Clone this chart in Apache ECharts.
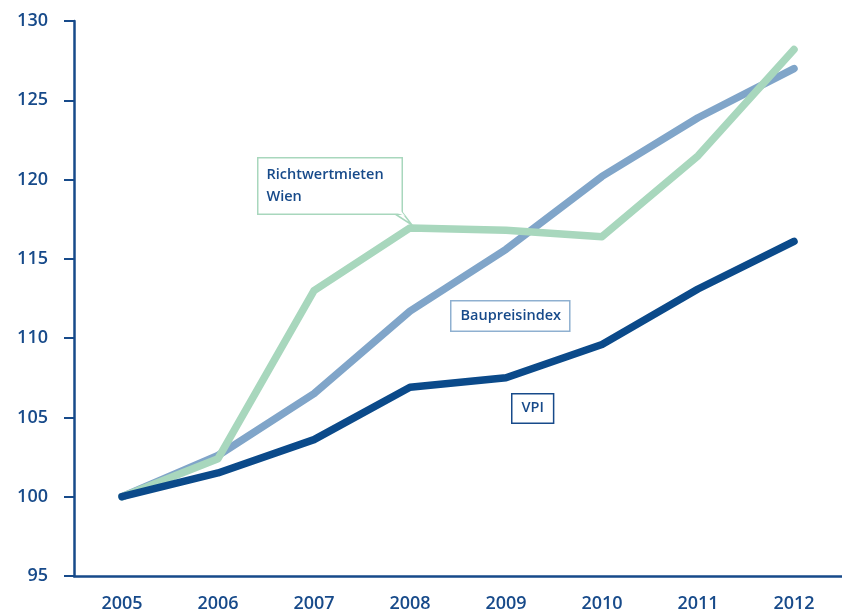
<!DOCTYPE html>
<html><head><meta charset="utf-8">
<script src="https://cdn.jsdelivr.net/npm/echarts@6/dist/echarts.min.js"></script>
<style>html,body{margin:0;padding:0;background:#fff}#c{width:842px;height:613px}</style>
</head><body><div id="c"></div>
<script>
const years = ['2005','2006','2007','2008','2009','2010','2011','2012'];
const vpi = [100, 101.5, 103.6, 106.9, 107.5, 109.6, 113.1, 116.1];
const baupreisindex = [100, 102.6, 106.5, 111.7, 115.6, 120.2, 123.9, 127.0];
const richtwertmieten = [100, 102.4, 113.0, 116.95, 116.8, 116.4, 121.5, 128.2];
const yTicks = {min: 95, max: 130, interval: 5};

const axisColor = '#174a8a';
const font = "'Open Sans', sans-serif";
const chart = echarts.init(document.getElementById('c'), null, {renderer: 'canvas'});
function line(name, data, color, z) {
  return {name, type: 'line', data, symbol: 'none', z,
    lineStyle: {color, width: 7.5, cap: 'round', join: 'round'}};
}
chart.setOption({
  animation: false,
  grid: {left: 74, top: 21, width: 774, height: 555},
  xAxis: {type: 'category', data: years, boundaryGap: true,
    axisLine: {lineStyle: {color: axisColor, width: 2.5}},
    axisTick: {length: 10, lineStyle: {color: axisColor, width: 2}},
    axisLabel: {color: axisColor, fontSize: 18, fontWeight: 600, fontFamily: font, margin: 19}},
  yAxis: {type: 'value', min: yTicks.min, max: yTicks.max, interval: yTicks.interval,
    splitLine: {show: false},
    axisLine: {show: true, lineStyle: {color: axisColor, width: 2.5}},
    axisTick: {show: true, length: 10, lineStyle: {color: axisColor, width: 2}},
    axisLabel: {color: axisColor, fontSize: 18, fontWeight: 600, fontFamily: font, margin: 26}},
  series: [
    line('Baupreisindex', baupreisindex, '#80a5c9', 2),
    line('Richtwertmieten Wien', richtwertmieten, '#a8d7bd', 3),
    line('VPI', vpi, '#0b4a8a', 4)
  ],
  graphic: [
    {type: 'polygon', z: 10, shape: {points: [[392, 212], [412, 225], [402, 212]]},
      style: {fill: '#fff', stroke: '#a8d7bd', lineWidth: 1.5}},
    {type: 'text', z: 11, left: 257, top: 157,
      style: {text: 'Richtwertmieten\nWien', font: "600 14.5px " + font, fill: '#174a8a',
        lineHeight: 22, backgroundColor: '#fff', borderColor: '#a8d7bd', borderWidth: 1.5,
        padding: [5, 10, 6, 8], width: 125}},
    {type: 'polygon', z: 12, shape: {points: [[393, 211.2], [401, 211.2], [405, 216]]},
      style: {fill: '#fff'}},
    {type: 'text', z: 11, left: 450, top: 300,
      style: {text: 'Baupreisindex', font: "600 14.5px " + font, fill: '#174a8a',
        backgroundColor: '#fff', borderColor: '#8fb0d0', borderWidth: 1.5,
        padding: [7, 8, 7, 9]}},
    {type: 'text', z: 11, left: 511, top: 393,
      style: {text: 'VPI', font: "600 14.5px " + font, fill: '#174a8a',
        backgroundColor: '#fff', borderColor: '#174a8a', borderWidth: 1.5,
        padding: [6, 9, 7, 9]}}
  ]
});
</script></body></html>
